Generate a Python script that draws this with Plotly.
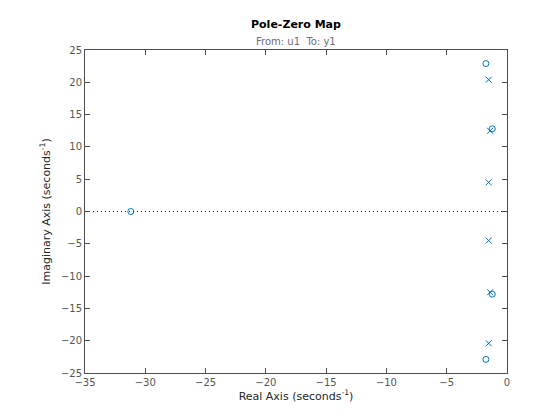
import plotly.graph_objects as go

# zeros and poles
zero_re = [-31.2, -1.75, -1.75, -1.22, -1.22]
zero_im = [0.0, 22.9, -22.9, 12.8, -12.8]
pole_re = [-1.52, -1.52, -1.4, -1.4, -1.52, -1.52]
pole_im = [20.4, -20.4, 12.5, -12.5, 4.5, -4.5]

blue = "#0072BD"
axis_gray = "#4d4d4d"
font = "DejaVu Sans"

fig = go.Figure()
fig.add_trace(go.Scatter(x=[-35, 0], y=[0, 0], mode="lines",
                         line=dict(color="#262626", width=1, dash="1px,3px"),
                         hoverinfo="skip"))
fig.add_trace(go.Scatter(x=zero_re, y=zero_im, mode="markers", name="zeros",
                         marker=dict(symbol="circle-open", size=6, color=blue,
                                     line=dict(width=1, color=blue))))
fig.add_trace(go.Scatter(x=pole_re, y=pole_im, mode="markers", name="poles",
                         marker=dict(symbol="x-thin-open", size=6, color=blue,
                                     line=dict(width=1, color=blue))))

axis_common = dict(showgrid=False, zeroline=False, showline=True, mirror="ticks",
                   linecolor=axis_gray, linewidth=1, ticks="inside", ticklen=5,
                   tickcolor=axis_gray, tickfont=dict(family=font, size=10, color="#555555"))

fig.update_xaxes(range=[-35, 0], dtick=5,
                 title=dict(text="Real Axis (seconds<sup>-1</sup>)", standoff=4,
                            font=dict(family=font, size=11, color="#262626")),
                 **axis_common)
fig.update_yaxes(range=[-25, 25], dtick=5,
                 title=dict(text="Imaginary Axis (seconds<sup>-1</sup>)", standoff=8,
                            font=dict(family=font, size=11, color="#262626")),
                 **axis_common)

fig.add_annotation(text="<b>Pole-Zero Map</b>", xref="paper", yref="paper",
                   x=0.5, y=1, yanchor="middle", yshift=26, showarrow=False,
                   font=dict(family=font, size=11, color="black"))
fig.add_annotation(text="From: u1  To: y1", xref="paper", yref="paper",
                   x=0.5, y=1, yanchor="middle", yshift=9, showarrow=False,
                   font=dict(family=font, size=10, color="#6e6e6e"))

# the page adds an 8px body margin, so the figure is a bit smaller than the window
fig.update_layout(width=552, height=412, showlegend=False,
                  plot_bgcolor="white", paper_bgcolor="white",
                  margin=dict(l=77, r=53, t=42, b=47))

fig.write_html("out.html")
